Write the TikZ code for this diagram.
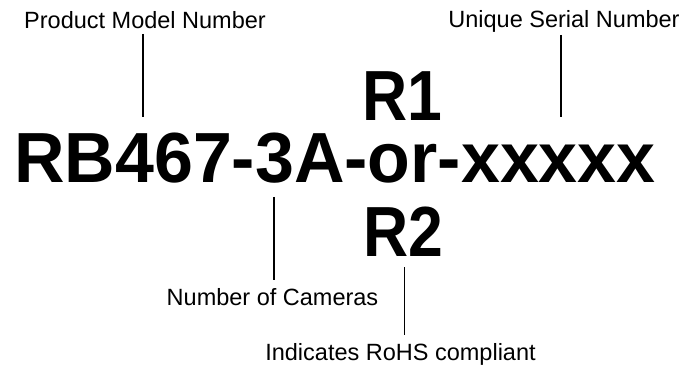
\documentclass[tikz,border=0pt]{standalone}
\usepackage{fontspec}
\setmainfont{Liberation Sans}
\begin{document}
\begin{tikzpicture}[x=1pt,y=-1pt,
  lbl/.style={inner sep=0pt,anchor=base,font=\fontsize{23.5}{26}\selectfont},
  big/.style={inner sep=0pt,anchor=base,font=\fontsize{71}{76}\selectfont\bfseries},
  leader/.style={line width=1.2pt}]
\useasboundingbox (0,0) rectangle (690,371);
\node[lbl] (pmn) at (145,28.5) {Product Model Number};
\node[lbl] (usn) at (564,27.5) {Unique Serial Number};
\node[big] (r1) at (402.5,120.5) {\scalebox{0.88}[1]{R1}};
\node[big] (main) at (335,182.5) {\scalebox{0.985}[1]{RB467-3A-or-xxxxx}};
\node[big] (r2) at (403.5,256) {\scalebox{0.88}[1]{R2}};
\node[lbl] (noc) at (272.5,305) {Number of Cameras};
\node[lbl] (rohs) at (400.5,360) {Indicates RoHS compliant};
\coordinate (a1) at (143,34); \coordinate (b1) at (143,117.5);
\coordinate (a2) at (561,35); \coordinate (b2) at (561,117.5);
\coordinate (a3) at (274,197); \coordinate (b3) at (274,280);
\coordinate (a4) at (404.5,267); \coordinate (b4) at (404.5,335);
\draw[leader] (a1) -- (b1);
\draw[leader] (a2) -- (b2);
\draw[leader] (a3) -- (b3);
\draw[leader] (a4) -- (b4);
\end{tikzpicture}
\end{document}
